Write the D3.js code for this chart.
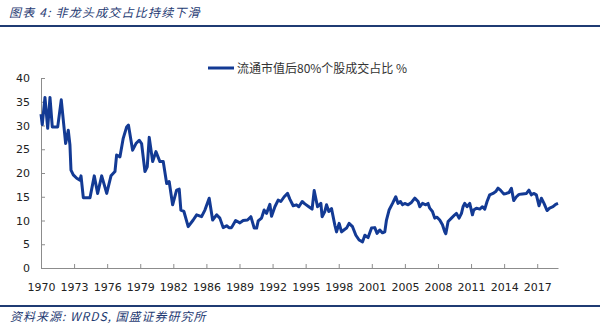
<!DOCTYPE html>
<html>
<head>
<meta charset="utf-8">
<script src="https://cdn.jsdelivr.net/npm/d3@7/dist/d3.min.js"></script>
<style>
  body { margin: 0; background: #fff; }
  svg { display: block; }
</style>
</head>
<body>
<svg id="chart" width="600" height="327"></svg>
<script>
// Share of turnover from the bottom 80% of stocks by float market cap (%), by date (fractional year)
const years = [
  1970.25, 1970.37, 1970.63, 1970.89, 1971.11, 1971.33, 1971.85, 1972.19, 1972.61, 1972.86,
  1973.02, 1973.12, 1973.34, 1973.67, 1973.98, 1974.08, 1974.30, 1974.94, 1975.35, 1975.67,
  1976.06, 1976.54, 1976.95, 1977.33, 1977.49, 1977.81, 1978.12, 1978.45, 1978.62, 1979.02,
  1979.34, 1979.65, 1979.88, 1980.20, 1980.42, 1980.61, 1980.94, 1981.25, 1981.63, 1981.95,
  1982.28, 1982.52, 1982.85, 1983.23, 1983.48, 1983.64, 1983.93, 1984.34, 1984.82, 1985.15,
  1985.62, 1985.94, 1986.35, 1986.68, 1987.06, 1987.37, 1987.69, 1988.02, 1988.24, 1988.49,
  1988.88, 1989.29, 1989.60, 1990.02, 1990.34, 1990.66, 1990.89, 1991.04, 1991.36, 1991.61,
  1991.84, 1992.16, 1992.32, 1992.64, 1992.95, 1993.21, 1993.53, 1993.85, 1994.07, 1994.39,
  1994.71, 1994.93, 1995.25, 1995.51, 1995.89, 1996.20, 1996.40, 1996.72, 1997.04, 1997.16,
  1997.42, 1997.58, 1997.80, 1998.06, 1998.38, 1998.54, 1998.79, 1999.02, 1999.24, 1999.50,
  1999.74, 2000.07, 2000.39, 2000.70, 2001.03, 2001.25, 2001.56, 2001.89, 2002.20, 2002.42,
  2002.68, 2002.94, 2003.16, 2003.32, 2003.57, 2003.90, 2004.21, 2004.43, 2004.66, 2004.85,
  2005.07, 2005.39, 2005.71, 2006.03, 2006.35, 2006.51, 2006.77, 2007.08, 2007.30, 2007.46,
  2007.72, 2007.94, 2008.16, 2008.42, 2008.68, 2008.90, 2009.00, 2009.22, 2009.54, 2009.86,
  2010.02, 2010.27, 2010.50, 2010.65, 2010.81, 2011.03, 2011.29, 2011.55, 2011.67, 2011.93,
  2012.25, 2012.51, 2012.73, 2012.95, 2013.20, 2013.52, 2013.78, 2014.00, 2014.23, 2014.54,
  2014.80, 2015.05, 2015.28, 2015.50, 2015.76, 2016.01, 2016.33, 2016.72, 2016.96, 2017.19,
  2017.41, 2017.67, 2017.92, 2018.15, 2018.40, 2018.69, 2018.94, 2019.26, 2019.52, 2019.74
];
const share = [
  32.4, 30.2, 35.9, 29.4, 35.9, 29.7, 29.7, 35.4, 26.2, 29.0,
  25.9, 20.6, 19.6, 18.9, 18.5, 19.4, 14.8, 14.8, 19.4, 15.7,
  19.4, 15.7, 19.4, 20.3, 23.8, 23.4, 27.3, 29.7, 30.1, 24.8,
  26.2, 26.9, 26.2, 20.3, 21.3, 27.5, 22.4, 24.5, 22.4, 22.4,
  17.8, 18.2, 13.3, 16.4, 16.6, 12.2, 11.9, 8.7, 10.1, 11.2,
  10.8, 12.2, 14.7, 10.1, 11.2, 10.5, 8.5, 8.9, 8.5, 8.5,
  10.0, 9.5, 10.0, 10.1, 10.8, 8.4, 8.4, 9.9, 10.5, 12.2,
  11.5, 13.4, 10.9, 12.9, 14.3, 14.0, 15.0, 15.7, 14.5, 13.1,
  13.3, 12.9, 14.0, 13.5, 12.9, 12.4, 16.3, 12.9, 13.6, 10.8,
  11.9, 13.3, 11.9, 12.5, 9.0, 7.6, 9.4, 7.6, 8.0, 8.4,
  9.4, 8.7, 6.9, 5.9, 5.5, 6.9, 6.4, 8.4, 8.5, 7.3,
  8.0, 7.4, 7.6, 10.1, 12.2, 13.6, 15.0, 13.6, 14.0, 13.3,
  13.6, 13.3, 13.8, 14.7, 14.0, 12.9, 13.6, 13.3, 13.6, 12.6,
  11.9, 10.5, 10.7, 10.1, 9.1, 7.6, 7.2, 9.8, 10.5, 11.2,
  11.5, 10.5, 11.5, 12.9, 13.6, 12.9, 13.6, 11.2, 12.2, 12.6,
  12.4, 12.9, 12.4, 14.0, 15.4, 15.7, 16.1, 16.8, 16.4, 15.6,
  15.7, 15.9, 16.8, 14.2, 15.0, 15.5, 15.6, 15.7, 16.4, 15.4,
  15.7, 15.4, 13.1, 14.7, 13.6, 12.1, 12.6, 12.9, 13.4, 13.6
];
const xTickLabels = ["1970", "1973", "1976", "1979", "1982", "1986", "1989", "1992",
                     "1995", "1998", "2001", "2005", "2008", "2011", "2014", "2017"];
const yTickValues = [0, 5, 10, 15, 20, 25, 30, 35, 40];
const seriesName = "流通市值后80%个股成交占比 %";

// Category axis labels fall every 38 months from the first observation
const labelStep = 38 / 12;
const xTickValues = xTickLabels.map((_, i) => years[0] + i * labelStep);

const svg = d3.select("#chart");
const navy = "#1f3b73";
const lineColor = "#133a94";
const axisColor = "#8c8c8c";

const x = d3.scaleLinear().domain([years[0], years[years.length - 1]]).range([41, 558]);
const y = d3.scaleLinear().domain([0, 40]).range([268, 78]);

// Header: title and rule
svg.append("text")
  .attr("x", 9).attr("y", 17)
  .attr("font-family", "'Noto Sans CJK SC', sans-serif")
  .attr("font-size", 12).attr("font-style", "italic")
  .attr("letter-spacing", 1.2)
  .attr("fill", navy)
  .text("图表 4:  非龙头成交占比持续下滑");
svg.append("line")
  .attr("x1", 0).attr("x2", 600).attr("y1", 26).attr("y2", 26)
  .attr("stroke", navy).attr("stroke-width", 2);

// Y axis
const yAxis = svg.append("g")
  .attr("transform", `translate(${x.range()[0]},0)`)
  .call(d3.axisLeft(y).tickValues(yTickValues).tickSize(-4).tickSizeOuter(0).tickPadding(11));
yAxis.select(".domain").attr("stroke", axisColor);
yAxis.selectAll(".tick line").attr("stroke", axisColor);
yAxis.selectAll(".tick text")
  .attr("font-family", "'DejaVu Sans', sans-serif").attr("font-size", 11).attr("fill", "#222");

// X axis
const xAxis = svg.append("g")
  .attr("transform", `translate(0,${y(0)})`)
  .call(d3.axisBottom(x).tickValues(xTickValues)
    .tickFormat((d, i) => xTickLabels[i])
    .tickSize(-4).tickSizeOuter(0).tickPadding(15));
xAxis.select(".domain").attr("stroke", axisColor);
xAxis.selectAll(".tick line").attr("stroke", axisColor);
xAxis.selectAll(".tick text")
  .attr("font-family", "'DejaVu Sans', sans-serif").attr("font-size", 11).attr("fill", "#222");

// Series line
const line = d3.line()
  .x((d, i) => x(years[i]))
  .y(d => y(d));
svg.append("path")
  .datum(share)
  .attr("fill", "none")
  .attr("stroke", lineColor)
  .attr("stroke-width", 3)
  .attr("stroke-linejoin", "round")
  .attr("d", line);

// Legend
const legend = svg.append("g").attr("transform", "translate(208,68)");
legend.append("line")
  .attr("x1", 0).attr("x2", 26).attr("y1", 0).attr("y2", 0)
  .attr("stroke", lineColor).attr("stroke-width", 3);
legend.append("text")
  .attr("x", 29).attr("y", 4.5)
  .attr("font-family", "'Noto Sans CJK SC', sans-serif")
  .attr("font-size", 12).attr("fill", "#333")
  .text(seriesName);

// Footer: rule and source
svg.append("line")
  .attr("x1", 0).attr("x2", 600).attr("y1", 306).attr("y2", 306)
  .attr("stroke", navy).attr("stroke-width", 2);
svg.append("text")
  .attr("x", 10).attr("y", 321)
  .attr("font-family", "'Noto Sans CJK SC', sans-serif")
  .attr("font-size", 12).attr("font-style", "italic")
  .attr("letter-spacing", 1)
  .attr("fill", navy)
  .text("资料来源: WRDS, 国盛证券研究所");
</script>
</body>
</html>
